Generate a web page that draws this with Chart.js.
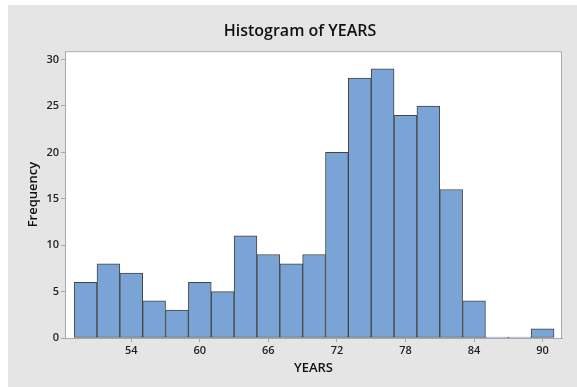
<!DOCTYPE html>
<html>
<head>
<meta charset="utf-8">
<script src="https://cdn.jsdelivr.net/npm/chart.js@4.4.0/dist/chart.umd.min.js"></script>
<style>
  html, body { margin: 0; padding: 0; background: #fff; }
  #wrap { position: absolute; left: 8px; top: 5px; width: 569px; height: 382px; }
</style>
</head>
<body>
<div id="wrap"><canvas id="histChart"></canvas></div>
<script>
// bin midpoints (bin width 2) and counts
const binMids = [50, 52, 54, 56, 58, 60, 62, 64, 66, 68, 70, 72, 74, 76, 78, 80, 82, 84, 86, 88, 90];
const counts = [6, 8, 7, 4, 3, 6, 5, 11, 9, 8, 9, 20, 28, 29, 24, 25, 16, 4, 0, 0, 1];
const xTicks = [54, 60, 66, 72, 78, 84, 90];
const yTicks = [0, 5, 10, 15, 20, 25, 30];

const FONT = "'Open Sans', 'Noto Sans', sans-serif";

// gray figure background, white plot area with a gray frame
const frame = {
    id: "frame",
    beforeDraw(chart) {
        const ctx = chart.ctx, a = chart.chartArea;
        ctx.save();
        ctx.fillStyle = "#e5e5e5";
        ctx.fillRect(0, 0, chart.width, chart.height);
        ctx.fillStyle = "#ffffff";
        ctx.fillRect(a.left, a.top, a.right - a.left, a.bottom - a.top);
        ctx.strokeStyle = "#a8a8a8";
        ctx.lineWidth = 1;
        ctx.strokeRect(a.left + 0.5, a.top + 0.5, a.right - a.left - 1, a.bottom - a.top);
        ctx.restore();
    }
};

let points = binMids.map((m, i) => ({ x: m, y: counts[i] }));

new Chart(document.getElementById("histChart"), {
    type: "bar",
    data: {
        datasets: [{
            label: "Frequency",
            data: points,
            backgroundColor: "#7ba4d6",
            borderColor: "#444444",
            borderWidth: 1,
            borderSkipped: false,
            minBarLength: 1,
            barPercentage: 1.0,
            categoryPercentage: 1.0
        }]
    },
    options: {
        responsive: true,
        maintainAspectRatio: false,
        animation: false,
        layout: { padding: { left: 15, right: 0, top: 0, bottom: 0 } },
        plugins: {
            legend: { display: false },
            tooltip: { enabled: false },
            title: {
                display: true,
                text: "Histogram of YEARS",
                color: "#111",
                font: { family: FONT, size: 16, weight: "600" },
                padding: { top: 17, bottom: 10 }
            }
        },
        scales: {
            x: {
                type: "linear",
                offset: false,
                min: 48.2,
                max: 91.7,
                afterBuildTicks: s => { s.ticks = xTicks.map(v => ({ value: v })); },
                afterFit: s => { s.height = 49; },
                grid: { display: true, drawOnChartArea: false, drawTicks: true, tickLength: 4, color: "#a8a8a8", offset: false },
                border: { display: true, color: "#a8a8a8" },
                ticks: { color: "#222", padding: 2, font: { family: FONT, size: 11, weight: "600" } },
                title: {
                    display: true,
                    text: "YEARS",
                    color: "#111",
                    font: { family: FONT, size: 13, weight: "600" },
                    padding: { top: 4, bottom: 11 }
                }
            },
            y: {
                min: 0,
                max: 30.9,
                afterBuildTicks: s => { s.ticks = yTicks.map(v => ({ value: v })); },
                afterFit: s => { s.width = 42; },
                grid: { display: true, drawOnChartArea: false, drawTicks: true, tickLength: 4, color: "#a8a8a8" },
                border: { display: true, color: "#a8a8a8" },
                ticks: { color: "#222", padding: 2, font: { family: FONT, size: 11, weight: "600" } },
                title: {
                    display: true,
                    text: "Frequency",
                    color: "#111",
                    font: { family: FONT, size: 13, weight: "600" },
                    padding: { top: 2, bottom: 2 }
                }
            },
            y2: {
                position: "right",
                display: true,
                grid: { display: false },
                border: { display: false },
                ticks: { display: false },
                afterFit: s => { s.width = 15; }
            }
        }
    },
    plugins: [frame]
});
</script>
</body>
</html>
